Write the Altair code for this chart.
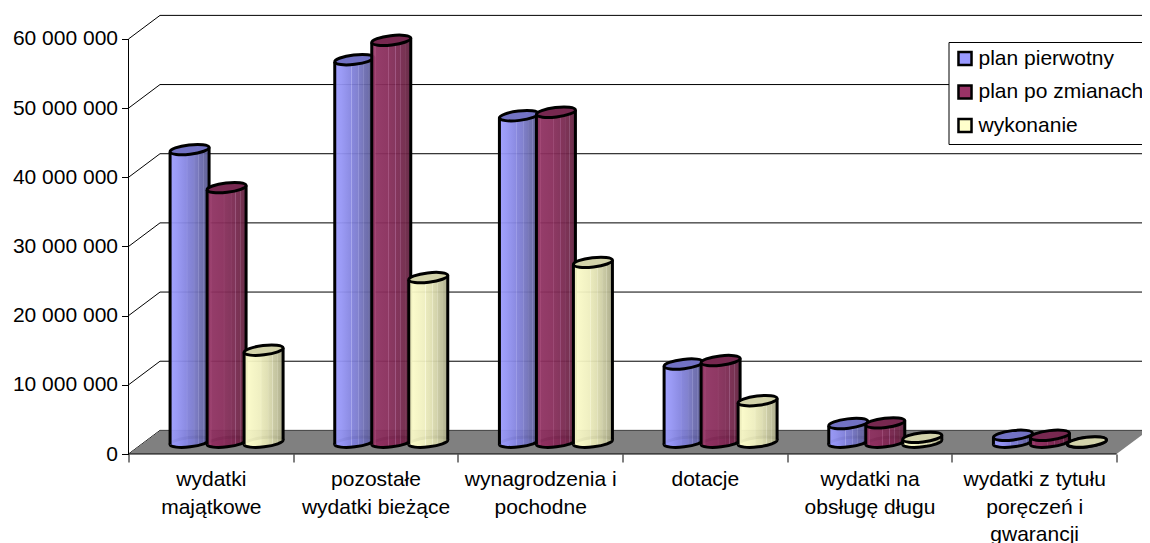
import json
import altair as alt
import pandas as pd

categories = [
    ["wydatki", "majątkowe"],
    ["pozostałe", "wydatki bieżące"],
    ["wynagrodzenia i", "pochodne"],
    ["dotacje"],
    ["wydatki na", "obsługę długu"],
    ["wydatki z tytułu", "poręczeń i", "gwarancji"],
]
series = ["plan pierwotny", "plan po zmianach", "wykonanie"]
plan_pierwotny = [42300000, 55300000, 47200000, 11300000, 2700000, 1000000]
plan_po_zmianach = [36800000, 58100000, 47700000, 11800000, 2800000, 1000000]
wykonanie = [13300000, 23800000, 26000000, 6000000, 700000, 30000]
values = [plan_pierwotny, plan_po_zmianach, wykonanie]
y_ticks = [0, 10000000, 20000000, 30000000, 40000000, 50000000, 60000000]

base = ["#9999FF", "#993366", "#FFFFCC"]
grad = [
    [(0, "#9C9CFF"), (0.18, "#9494F4"), (0.42, "#8484E0"), (0.43, "#A4A4EC"), (0.45, "#8080DA"),
     (0.6, "#7A7ACC"), (0.61, "#9090D8"), (0.63, "#7676C4"), (0.72, "#7070B8"), (0.73, "#8888C8"),
     (0.75, "#6C6CB0"), (0.84, "#6666A8"), (0.85, "#7E7EBC"), (0.87, "#62629E"), (1, "#5A5A94")],
    [(0, "#8E3060"), (0.1, "#A04070"), (0.12, "#8E3060"), (0.42, "#882C5A"), (0.43, "#A04A78"), (0.45, "#852C58"),
     (0.6, "#7E2A54"), (0.61, "#9C5080"), (0.63, "#7C2850"), (0.72, "#782850"), (0.73, "#965078"),
     (0.75, "#74264C"), (0.84, "#702648"), (0.85, "#8A4C70"), (0.87, "#6C2444"), (1, "#5E2040")],
    [(0, "#FFFFCC"), (0.2, "#F6F6C4"), (0.42, "#EEEEBE"), (0.43, "#F8F8D8"), (0.45, "#E8E8B8"),
     (0.6, "#DEDEB0"), (0.61, "#EAEAC8"), (0.63, "#D8D8AC"), (0.72, "#D0D0A6"), (0.73, "#E0E0C0"),
     (0.75, "#C8C8A0"), (0.84, "#C0C09A"), (0.85, "#D0D0B0"), (0.87, "#BABA94"), (1, "#A8A888")],
]
tops = ["#7272C4", "#772850", "#D3D3AA"]

W, H = 1013, 438
PX_X = 164.67
PX_Y = 6.917 / 1e6
DX = 31.5 / PX_X
DY = 23.6 / PX_Y
X_MAX = W / PX_X
X_END = 6 + DX
Y_MAX = H / PX_Y
PITCH = 37 / PX_X
HALF = 19.5 / PX_X
TILT = 2.3 / PX_Y

x_scale = alt.Scale(domain=[0, X_MAX], nice=False, zero=False)
y_scale = alt.Scale(domain=[0, Y_MAX], nice=False, zero=False)
X = alt.X("x:Q", scale=x_scale, title=None)
Y = alt.Y("y:Q", scale=y_scale, title=None)


def lg(stops):
    return alt.Gradient(
        gradient="linear", x1=0, x2=1, y1=0, y2=0,
        stops=[alt.GradientStop(offset=o, color=c) for o, c in stops],
    )


# walls
grid_rows = []
for v in y_ticks:
    grid_rows += [
        {"x": 0, "y": v, "g": v, "o": 0},
        {"x": DX, "y": v + DY, "g": v, "o": 1},
        {"x": X_END, "y": v + DY, "g": v, "o": 2},
    ]
grid = alt.Chart(pd.DataFrame(grid_rows)).mark_line(color="#000000", strokeWidth=1).encode(
    x=X, y=Y, detail="g:N", order="o:Q"
)

floor_df = pd.DataFrame({
    "x": [0, DX, X_END - DX, X_END],
    "y": [0, 0, 0, DY],
    "y2": [0, DY, DY, DY],
})
floor = alt.Chart(floor_df).mark_area(color="#808080", opacity=1).encode(x=X, y=Y, y2="y2:Q")

axis_x_line = alt.Chart(pd.DataFrame({"x": [0, X_END - DX], "y": [0, 0]})).mark_line(color="#000000", strokeWidth=1).encode(x=X, y=Y)
axis_y_line = alt.Chart(pd.DataFrame({"x": [0, 0], "y": [0, 60000000]})).mark_line(color="#000000", strokeWidth=1).encode(x=X, y=Y)

label_expr = json.dumps(categories + [""], ensure_ascii=False) + "[datum.value]"
x_axis_layer = alt.Chart(pd.DataFrame({"x": [0], "y": [0]})).mark_point(opacity=0).encode(
    x=alt.X("x:Q", scale=x_scale, title=None, axis=alt.Axis(
        values=[0, 1, 2, 3, 4, 5, 6], domain=False, grid=False, tickColor="#000000", tickSize=8,
        labelExpr=label_expr, labelOffset=PX_X / 2, labelAlign="center", labelBaseline="top",
        labelFontSize=21, labelFont="Liberation Sans", labelColor="#000000", labelLineHeight=27.5,
        labelPadding=6.5, labelOverlap=False, labelFlush=False, labelBound=False,
    )),
    y=alt.Y("y:Q", scale=y_scale, title=None, axis=alt.Axis(
        values=y_ticks, domain=False, grid=False, tickColor="#000000", tickSize=7,
        labelExpr="replace(format(datum.value, ','), /,/g, ' ')",
        labelFontSize=21, labelFont="Liberation Sans", labelColor="#000000", labelPadding=4,
        labelOverlap=False, labelFlush=False, labelBound=False,
    )),
)

# cylinders
ELLIPSE = "M-1,0.118 A1.005,0.24 -6.7 1 1 1,-0.118 A1.005,0.24 -6.7 1 1 -1,0.118 Z"
SIZE = 39 ** 2
STROKE = 3

layers = [grid, floor, axis_x_line, axis_y_line]
for s, name in enumerate(series):
    rows = []
    for c, val in enumerate(values[s]):
        cx = c + 0.5 + DX / 2 + (s - 1) * PITCH
        rows.append({"cx": cx, "top": val, "bottom": 0})
    d = pd.DataFrame(rows)
    body_rows = []
    for i, r in d.iterrows():
        body_rows.append({"b": i, "x": r.cx - HALF, "y": r.top - TILT, "y2": -TILT})
        body_rows.append({"b": i, "x": r.cx + HALF, "y": r.top + TILT, "y2": TILT})
    body = pd.DataFrame(body_rows)
    body["y"] += DY / 2
    body["y2"] += DY / 2
    d["ty"] = d["top"] + DY / 2
    d["by"] = DY / 2

    bottom = alt.Chart(d).mark_point(
        shape=ELLIPSE, size=SIZE, filled=True, fill=lg(grad[s]), stroke="#000000", strokeWidth=STROKE, opacity=1
    ).encode(x=alt.X("cx:Q", scale=x_scale, title=None), y=alt.Y("by:Q", scale=y_scale, title=None))
    area = alt.Chart(body).mark_area(fill=lg(grad[s]), opacity=0.94, interpolate="linear").encode(
        x=X, y=Y, y2="y2:Q", detail="b:N"
    )
    side_l = body.iloc[::2]
    side_r = body.iloc[1::2]
    left = alt.Chart(side_l).mark_rule(color="#000000", strokeWidth=STROKE).encode(x=X, y=Y, y2="y2:Q")
    right = alt.Chart(side_r).mark_rule(color="#000000", strokeWidth=STROKE).encode(x=X, y=Y, y2="y2:Q")
    top = alt.Chart(d).mark_point(
        shape=ELLIPSE, size=SIZE, filled=True, fill=tops[s], stroke="#000000", strokeWidth=STROKE, opacity=1
    ).encode(x=alt.X("cx:Q", scale=x_scale, title=None), y=alt.Y("ty:Q", scale=y_scale, title=None))
    layers += [bottom, area, left, right, top]

legend_df = pd.DataFrame({"name": series, "x": [0, 0, 0], "y": [0, 0, 0]})
legend_layer = alt.Chart(legend_df).mark_square(opacity=0, size=1).encode(
    x=alt.X("x:Q", scale=x_scale, title=None),
    y=alt.Y("y:Q", scale=y_scale, title=None),
    color=alt.Color("name:N", scale=alt.Scale(domain=series, range=base), legend=alt.Legend(
        orient="none", legendX=820, legendY=26, title=None, fillColor="#FFFFFF", strokeColor="#000000",
        symbolType="square", symbolSize=170, symbolOpacity=1, symbolStrokeColor="#000000", symbolStrokeWidth=2.5,
        labelFontSize=21, labelFont="Liberation Sans", labelColor="#000000", labelLimit=300,
        rowPadding=8.5, padding=6, symbolOffset=0, labelOffset=3,
    )),
)

chart = alt.layer(*layers, x_axis_layer, legend_layer).properties(
    width=W, height=H,
    padding={"left": 120.5, "top": 8, "right": 0.5, "bottom": 89},
    autosize=alt.AutoSizeParams(type="none"),
    background="#FFFFFF",
).configure_view(stroke=None)

chart.save("out.html", embed_options={"renderer": "svg", "actions": False})
